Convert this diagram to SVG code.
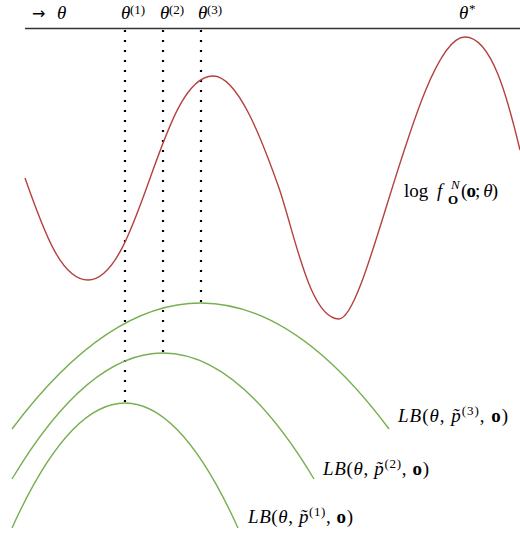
<svg xmlns="http://www.w3.org/2000/svg" width="520" height="536" viewBox="0 0 520 536">
<style>
text{font-family:"Liberation Serif","DejaVu Serif",serif;fill:#000;font-size:19px}
.i{font-style:italic}
.b{font-weight:bold}
.s{font-size:13px}
.arr{font-family:"DejaVu Sans",sans-serif;font-size:16px}
.red{fill:none;stroke:#b5413f;stroke-width:1.4}
.grn{fill:none;stroke:#76b050;stroke-width:1.4}
.dot{stroke:#000;stroke-width:2.2;stroke-dasharray:2 8;fill:none}
</style>
<rect width="520" height="536" fill="#fff"/>
<g id="axis">
<line x1="25" y1="28.5" x2="520" y2="28.5" stroke="#333" stroke-width="1.5"/>
<text x="32" y="19" class="arr">→</text><text x="57" y="19" class="i">θ</text>
<text x="121" y="19" class="i">θ</text><text x="130" y="14" class="s">(1)</text>
<text x="160" y="19" class="i">θ</text><text x="169" y="14" class="s">(2)</text>
<text x="198" y="19" class="i">θ</text><text x="207" y="14" class="s">(3)</text>
<text x="459" y="19" class="i">θ</text><text x="469" y="13" class="s">*</text>
</g>
<g id="connectors">
<line class="dot" x1="125" y1="30" x2="125" y2="403"/>
<line class="dot" x1="163" y1="30" x2="163" y2="353"/>
<line class="dot" x1="201" y1="30" x2="201" y2="303"/>
</g>
<g id="log-likelihood">
<path class="red" d="M25,178 C45,235 62,280 88,280 C140,280 160,76 213,76 C238,76 262,140 279,188 C295,235 310,319 339,319 C368,319 418,37 465,37 C492,37 508,100 520,150"/>
<text x="404" y="197">log</text>
<text x="437" y="197" class="i">f</text>
<text x="448" y="204" class="s b">O</text>
<text x="451" y="189" class="s i">N</text>
<text x="461" y="197" textLength="37">(<tspan class="b">o</tspan>; <tspan class="i">θ</tspan>)</text>
</g>
<g id="lb3">
<path class="grn" d="M12,429 Q201,177 389,429"/>
<text x="398" y="422" textLength="110"><tspan class="i">LB</tspan>(<tspan class="i">θ</tspan>, <tspan class="i">p̃</tspan><tspan class="s" dy="-7">(3)</tspan><tspan dy="7">, </tspan><tspan class="b">o</tspan>)</text>
</g>
<g id="lb2">
<path class="grn" d="M12,479 Q163,227 314,479"/>
<text x="323" y="475" textLength="106"><tspan class="i">LB</tspan>(<tspan class="i">θ</tspan>, <tspan class="i">p̃</tspan><tspan class="s" dy="-7">(2)</tspan><tspan dy="7">, </tspan><tspan class="b">o</tspan>)</text>
</g>
<g id="lb1">
<path class="grn" d="M12,528 Q125,278 238,528"/>
<text x="248" y="523" textLength="105"><tspan class="i">LB</tspan>(<tspan class="i">θ</tspan>, <tspan class="i">p̃</tspan><tspan class="s" dy="-7">(1)</tspan><tspan dy="7">, </tspan><tspan class="b">o</tspan>)</text>
</g>
</svg>
